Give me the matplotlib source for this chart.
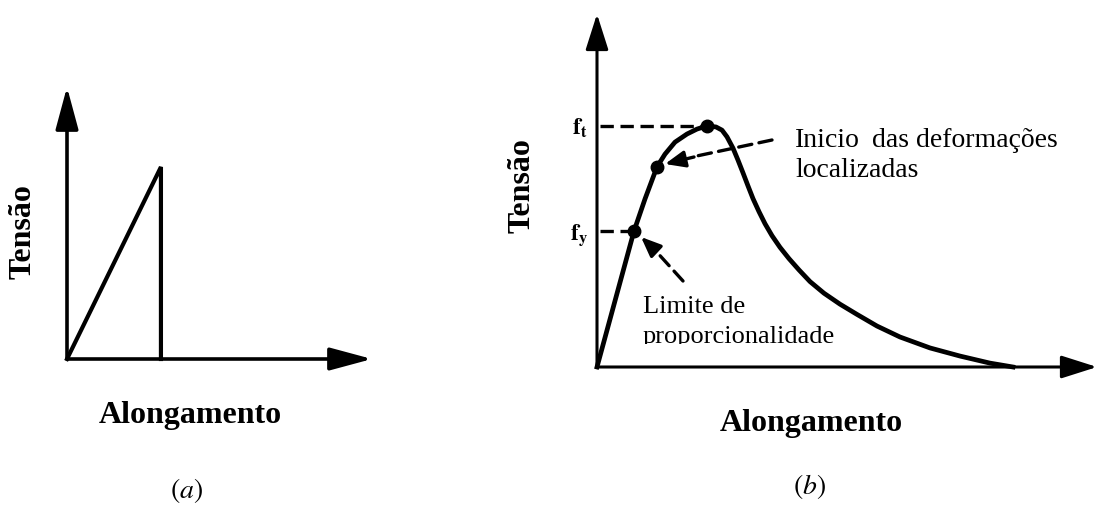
import numpy as np
import matplotlib
matplotlib.use("Agg")
import matplotlib.pyplot as plt
from matplotlib.transforms import Bbox

plt.rcParams['mathtext.fontset'] = 'stix'

# (a) material fragil: tensao x alongamento (unidades arbitrarias)
along_a = [0, 30.8, 30.8]
tensao_a = [0, 70.6, 0]

# (b) curva com amolecimento
along_b = [0, 7.4, 9.6, 12, 13.6, 15.6, 18, 20, 22, 23.8, 25, 26, 27.2, 28.2,
           29.2, 30.2, 31.2, 32.4, 33.6, 35.0, 36.6, 38.4, 40.4, 42.6, 45.4,
           48.6, 52.0, 56.0, 60.6, 66.6, 72.6, 78.6, 83.2]
tensao_b = [0, 38.5, 47.6, 56.7, 60.3, 63.7, 66.0, 67.4, 68.3, 68.0, 67.1,
            65.2, 62.0, 58.6, 55.0, 51.3, 47.7, 44.0, 40.6, 37.2, 33.9, 30.7,
            27.5, 24.2, 20.9, 17.8, 14.9, 11.6, 8.5, 5.4, 3.1, 1.1, 0]
i_fy = 1      # limite de proporcionalidade
i_loc = 3     # inicio das deformacoes localizadas
i_ft = 8      # tensao maxima

W, H = 1097, 506
fig = plt.figure(figsize=(W / 100, H / 100), dpi=100)


def rect(x0, y0, x1, y1):
    # pixels (origem em cima) -> fracao da figura
    return [x0 / W, (H - y0) / H, (x1 - x0) / W, (y0 - y1) / H]


def fp(x, y):
    return (x, H - y)


def eixos(ax, lw, hl):
    ax.set_xlim(0, 100)
    ax.set_ylim(0, 100)
    ax.axis('off')
    st = dict(arrowstyle='-|>,head_length=%g,head_width=%g' % (hl, 7),
              color='black', lw=lw, mutation_scale=1, shrinkA=0, shrinkB=0)
    ax.annotate('', xy=(1, 0), xytext=(0, 0), xycoords='axes fraction', arrowprops=st)
    ax.annotate('', xy=(0, 1), xytext=(0, 0), xycoords='axes fraction', arrowprops=st)


# ---- painel (a)
axa = fig.add_axes(rect(67, 360, 372, 88))
eixos(axa, 2.6, 26)
axa.plot(along_a, tensao_a, color='black', lw=3.0, solid_joinstyle='miter', clip_on=False)

# ---- painel (b)
axb = fig.add_axes(rect(597, 368, 1097, 15))
eixos(axb, 2.2, 22)
axb.plot(along_b, tensao_b, color='black', lw=3.4, clip_on=False,
         solid_joinstyle='round')
for i in (i_fy, i_loc, i_ft):
    axb.plot(along_b[i], tensao_b[i], 'o', color='black', ms=9, clip_on=False)
for i in (i_fy, i_ft):
    axb.plot([0.6, along_b[i]], [tensao_b[i], tensao_b[i]], '--', color='black',
             lw=2.4, dashes=(4, 2), clip_on=False)

# leaders
dash = dict(arrowstyle='-', color='black', lw=2.4, ls=(0, (4, 2.2)),
            shrinkA=0, shrinkB=0)
head = dict(arrowstyle='-|>,head_length=12,head_width=5', color='black', lw=2.4,
            mutation_scale=1, shrinkA=0, shrinkB=0)
fig.add_artist(plt.Annotation('', xy=fp(692, 158), xytext=fp(772, 141),
                              xycoords='figure pixels', arrowprops=dash))
fig.add_artist(plt.Annotation('', xy=fp(665, 165), xytext=fp(694, 158),
                              xycoords='figure pixels', arrowprops=head))
fig.add_artist(plt.Annotation('', xy=fp(654, 250), xytext=fp(683, 282),
                              xycoords='figure pixels', arrowprops=dash))
fig.add_artist(plt.Annotation('', xy=fp(641, 238), xytext=fp(656, 252),
                              xycoords='figure pixels', arrowprops=head))

serif = 'Liberation Serif'
bold = dict(family=serif, weight='bold', fontsize=23, color='black')
fig.text(23 / W, 1 - 232 / H, 'Tensão', rotation=90, ha='center', va='center', **bold)
fig.text(522 / W, 1 - 186 / H, 'Tensão', rotation=90, ha='center', va='center', **bold)
fig.text(190 / W, 1 - 415 / H, 'Alongamento', ha='center', va='center', **bold)
fig.text(811 / W, 1 - 424 / H, 'Alongamento', ha='center', va='center', **bold)

fig.text(187 / W, 1 - 491 / H, r'$(a)$', ha='center', va='center', fontsize=20)
fig.text(809 / W, 1 - 487 / H, r'$(b)$', ha='center', va='center', fontsize=20)

# f_t, f_y
fsub = dict(ha='right', va='center', fontsize=17, color='black')
fig.text(588 / W, 1 - 128 / H, r'$\mathbf{f}_{\mathbf{t}}$', **fsub)
fig.text(588 / W, 1 - 235 / H, r'$\mathbf{f}_{\mathbf{y}}$', **fsub)

reg = dict(family=serif, fontsize=20, color='black', va='baseline')
fig.text(795 / W, 1 - 147 / H, 'Inicio', ha='left', **reg)
fig.text(872 / W, 1 - 147 / H, 'das', ha='left', **reg)
fig.text(1058 / W, 1 - 147 / H, 'deformações', ha='right', **reg)
fig.text(795 / W, 1 - 177 / H, 'localizadas', ha='left', **reg)

lim = dict(family=serif, fontsize=19, color='black', va='baseline', ha='left')
fig.text(643 / W, 1 - 313 / H, 'Limite de', **lim)
t = fig.text(643 / W, 1 - 343 / H, 'proporcionalidade', **lim)
t.set_clip_box(Bbox([[0, H - 345], [W, H]]))
t.set_clip_on(True)

fig.savefig('out.png', dpi=100)
